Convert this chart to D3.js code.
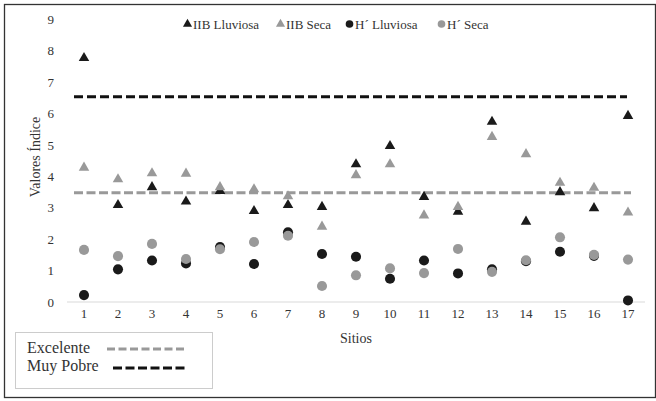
<!DOCTYPE html>
<html><head><meta charset="utf-8">
<script src="https://cdn.jsdelivr.net/npm/d3@7"></script>
<style>body{margin:0;background:#fff}svg{display:block}</style>
</head><body>
<script>
const sitios = d3.range(1, 18);
const iibLluviosa = [7.8, 3.12, 3.69, 3.23, 3.57, 2.93, 3.12, 3.06, 4.42, 5.0, 3.38, 2.91, 5.77, 2.59, 3.53, 3.02, 5.96];
const iibSeca     = [4.31, 3.94, 4.13, 4.12, 3.69, 3.62, 3.4, 2.43, 4.07, 4.42, 2.79, 3.06, 5.29, 4.74, 3.83, 3.67, 2.88];
const hLluviosa   = [0.22, 1.04, 1.32, 1.23, 1.75, 1.21, 2.22, 1.53, 1.44, 0.74, 1.32, 0.91, 1.04, 1.30, 1.60, 1.47, 0.05];
const hSeca       = [1.66, 1.46, 1.85, 1.37, 1.68, 1.91, 2.11, 0.51, 0.85, 1.07, 0.92, 1.69, 0.96, 1.33, 2.06, 1.50, 1.35];
const excelente = 3.48;
const muyPobre = 6.54;
const yTicks = d3.range(0, 10);

const FONT = "'Liberation Serif', 'Times New Roman', Times, serif";
const W = 656, H = 401;
const svg = d3.select("body").append("svg").attr("width", W).attr("height", H)
  .style("font-family", FONT);
svg.append("rect").attr("x", 4.5).attr("y", 4.5).attr("width", 651).attr("height", 393)
  .attr("fill", "none").attr("stroke", "#333").attr("stroke-width", 1.3);

const x = d3.scaleBand().domain(sitios).range([67, 645]);
const cx = d => x(d) + x.bandwidth() / 2;
const y = d3.scaleLinear().domain([0, 9]).range([302, 19.4]);

svg.append("line").attr("x1", 67).attr("x2", 645).attr("y1", y(0)).attr("y2", y(0))
  .attr("stroke", "#d9d9d9").attr("stroke-width", 1);

function styleText(sel, size) {
  sel.style("font-family", FONT).style("font-size", size).style("fill", "#333");
}

const yAxis = d3.axisLeft(y).tickValues(yTicks).tickSize(0).tickPadding(0).tickFormat(d3.format("d"));
const gy = svg.append("g").attr("transform", "translate(54,0)").call(yAxis).attr("font-family", null);
gy.select(".domain").remove();
styleText(gy.selectAll("text"), "13px");

const xAxis = d3.axisBottom(x).tickSize(0).tickPadding(0);
const gx = svg.append("g").attr("transform", "translate(0,309)").call(xAxis).attr("font-family", null);
gx.select(".domain").remove();
styleText(gx.selectAll("text"), "13px");

styleText(svg.append("text").attr("x", 356).attr("y", 343).attr("text-anchor", "middle").text("Sitios"), "14px");
styleText(svg.append("text").attr("transform", "translate(40,157) rotate(-90)").attr("text-anchor", "middle")
  .text("Valores Índice"), "14px");

const x0 = cx(1) - 10, x1 = cx(17);
svg.append("line").attr("x1", x0).attr("x2", x1 + 3).attr("y1", y(excelente)).attr("y2", y(excelente))
  .attr("stroke", "#999").attr("stroke-width", 3).attr("stroke-dasharray", "9,3.5");
svg.append("line").attr("x1", x0).attr("x2", x1 - 1).attr("y1", y(muyPobre)).attr("y2", y(muyPobre))
  .attr("stroke", "#111").attr("stroke-width", 3).attr("stroke-dasharray", "9,4");

const black = "#1a1a1a", gray = "#999";
const tri = d3.symbol().type(d3.symbolTriangle).size(48);
const circ = d3.symbol().type(d3.symbolCircle).size(80);

function tris(vals, color) {
  svg.append("g").selectAll("path").data(vals).join("path")
    .attr("d", tri).attr("fill", color)
    .attr("transform", (d, i) => `translate(${cx(sitios[i])},${y(d) + 1})`);
}
function circs(vals, color) {
  svg.append("g").selectAll("path").data(vals).join("path")
    .attr("d", circ).attr("fill", color)
    .attr("transform", (d, i) => `translate(${cx(sitios[i])},${y(d)})`);
}
tris(iibLluviosa, black);
tris(iibSeca, gray);
circs(hLluviosa, black);
circs(hSeca, gray);

const legItems = [
  {label: "IIB Lluviosa", sym: "tri", color: black, x: 183},
  {label: "IIB Seca", sym: "tri", color: gray, x: 276},
  {label: "H´ Lluviosa", sym: "circ", color: black, x: 345},
  {label: "H´ Seca", sym: "circ", color: gray, x: 437}
];
const lg = svg.append("g").selectAll("g").data(legItems).join("g")
  .attr("transform", d => `translate(${d.x},24)`);
lg.append("path").attr("d", d => d.sym === "tri" ? d3.symbol().type(d3.symbolTriangle).size(36)() : d3.symbol().type(d3.symbolCircle).size(46)())
  .attr("fill", d => d.color).attr("transform", "translate(4.5,0)");
styleText(lg.append("text").attr("x", 10).attr("y", 4.5).text(d => d.label), "13px");

svg.append("rect").attr("x", 15.5).attr("y", 332.5).attr("width", 197).attr("height", 56)
  .attr("fill", "#fff").attr("stroke", "#ccc").attr("stroke-width", 1);
styleText(svg.append("text").attr("x", 27).attr("y", 353).text("Excelente"), "16px");
svg.append("line").attr("x1", 107).attr("x2", 184).attr("y1", 349).attr("y2", 349)
  .attr("stroke", "#999").attr("stroke-width", 3).attr("stroke-dasharray", "8,3.5");
styleText(svg.append("text").attr("x", 27).attr("y", 371).text("Muy Pobre"), "16px");
svg.append("line").attr("x1", 113).attr("x2", 186).attr("y1", 368).attr("y2", 368)
  .attr("stroke", "#111").attr("stroke-width", 3).attr("stroke-dasharray", "9,3.5");
</script>
</body></html>
